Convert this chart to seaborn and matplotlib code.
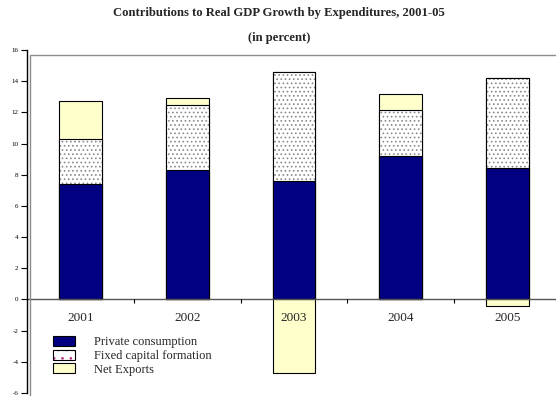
import matplotlib
matplotlib.use("Agg")
import matplotlib.pyplot as plt
from matplotlib.patches import Patch, Rectangle
import numpy as np
import pandas as pd
import seaborn as sns

years = ["2001", "2002", "2003", "2004", "2005"]
private_consumption = [7.4, 8.3, 7.6, 9.2, 8.4]
fixed_capital = [2.9, 4.2, 7.0, 2.95, 5.8]
net_exports = [2.4, 0.4, -4.7, 1.0, -0.4]
y_ticks = [-6, -4, -2, 0, 2, 4, 6, 8, 10, 12, 14, 16]

NAVY = "#000080"
CREAM = "#FFFFCC"
serif = ["Liberation Serif", "DejaVu Serif"]

sns.set_theme(style="white")
plt.rcParams["font.family"] = serif
plt.rcParams["hatch.linewidth"] = 0.7

pc = np.array(private_consumption)
fc = np.array(fixed_capital)
nx = np.array(net_exports)

df = pd.DataFrame({
    "year": years,
    "top_all": pc + fc + np.clip(nx, 0, None),
    "top_fc": pc + fc,
    "pc": pc,
    "neg": np.clip(nx, None, 0),
})

W, H = 556, 396
fig = plt.figure(figsize=(W / 100, H / 100), dpi=100)
ax = fig.add_axes([27 / W, (H - 393) / H, 534 / W, 343 / H])

# plot-area frame
fig.patches.append(Rectangle((30 / W, -0.1), 1.2, (H - 55) / H + 0.1,
                             transform=fig.transFigure, fill=False,
                             edgecolor="#8c8c8c", linewidth=1.0, zorder=0))

bw = 0.4
common = dict(x="year", order=years, width=bw, ax=ax, saturation=1)
# stacked layers drawn back to front
sns.barplot(data=df, y="top_all", color=CREAM, edgecolor="black", linewidth=0.8, **common)
sns.barplot(data=df, y="top_fc", color="white", edgecolor="#8a8a8a", hatch="....", linewidth=0, **common)
sns.barplot(data=df, y="top_fc", fill=False, edgecolor="black", linewidth=0.8, **common)
sns.barplot(data=df, y="pc", color=NAVY, edgecolor="black", linewidth=0.8, **common)
sns.barplot(data=df, y="neg", color=CREAM, edgecolor="black", linewidth=0.8, **common)

ax.set_xlim(-0.5, 4.5)
ax.set_ylim(-6, 16)
ax.set_yticks(y_ticks)
ax.set_yticklabels([str(v) for v in y_ticks], fontsize=5)
ax.set_xticks([])
ax.set_xlabel("")
ax.set_ylabel("")
for s in ["top", "right", "bottom"]:
    ax.spines[s].set_visible(False)
ax.spines["left"].set_color("black")
ax.spines["left"].set_linewidth(1.0)
ax.tick_params(axis="y", direction="out", length=4, width=0.8, pad=2, left=True, colors="black")

# zero line and category separators
ax.axhline(0, color="#555555", linewidth=1.0, zorder=1)
ax.vlines(np.arange(len(years) - 1) + 0.5, -0.25, 0.05, color="black", linewidth=0.8)
for i, y in enumerate(years):
    ax.text(i, -1.2, y, ha="center", va="center", fontsize=9.5)

fig.text(279 / W, 1 - 13 / H, "Contributions to Real GDP Growth by Expenditures, 2001-05",
         ha="center", va="center", fontsize=9.1, fontweight="bold")
fig.text(279 / W, 1 - 38 / H, "(in percent)",
         ha="center", va="center", fontsize=9.1, fontweight="bold")

dots = Patch(facecolor="white", edgecolor="#c0308a", hatch="..", linewidth=0)
outline = Patch(facecolor="none", edgecolor="black", linewidth=0.8)
handles = [
    Patch(facecolor=NAVY, edgecolor="black", linewidth=0.8),
    (dots, outline),
    Patch(facecolor=CREAM, edgecolor="black", linewidth=0.8),
]
labels = ["Private consumption", "Fixed capital formation", "Net Exports"]
fig.legend(handles, labels, loc="upper left", bbox_to_anchor=(53 / W, 1 - 336 / H),
           frameon=False, fontsize=9, handlelength=1.75, handleheight=0.9,
           handletextpad=1.55, labelspacing=0.08, borderaxespad=0, borderpad=0)

fig.savefig("out.png", dpi=100)
